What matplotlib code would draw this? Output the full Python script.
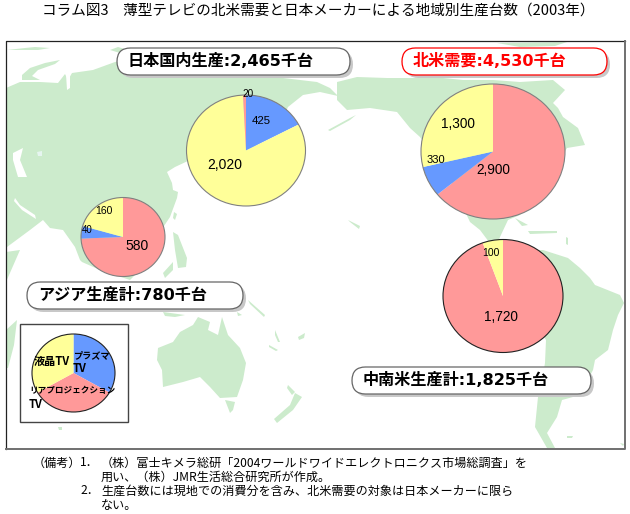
import matplotlib
matplotlib.use('Agg')
import matplotlib.pyplot as plt
from matplotlib.patches import Polygon, Rectangle, FancyBboxPatch, Circle

W, H = 630, 514
JP = ['Noto Sans CJK JP', 'DejaVu Sans']
LATIN_JP = ['DejaVu Sans', 'Noto Sans CJK JP']

PINK = '#FF9999'
BLUE = '#6699FF'
YELLOW = '#FFFF99'
LAND = '#CCEBCC'

# production by region, thousand units
japan_vals = [425, 2020, 20]
japan_cols = [BLUE, YELLOW, PINK]
namerica_vals = [2900, 330, 1300]
namerica_cols = [PINK, BLUE, YELLOW]
asia_vals = [580, 40, 160]
asia_cols = [PINK, BLUE, YELLOW]
latam_vals = [1720, 100]
latam_cols = [PINK, YELLOW]
key_vals = [1, 1, 1]
key_cols = [BLUE, PINK, YELLOW]

title = 'コラム図3\u3000薄型テレビの北米需要と日本メーカーによる地域別生産台数（2003年）'
notes = [
    (33, 463, '（備考）'),
    (80, 463, '1．'),
    (101, 463, '（株）富士キメラ総研「2004ワールドワイドエレクトロニクス市場総調査」を'),
    (101, 477, '用い、（株）JMR生活総合研究所が作成。'),
    (80, 491, '2．'),
    (101, 491, '生産台数には現地での消費分を含み、北米需要の対象は日本メーカーに限ら'),
    (101, 505, 'ない。'),
]

# map outlines, pixel positions
eurasia = [(6, 88), (20, 82), (40, 82), (58, 83), (65, 74), (68, 80), (72, 73), (93, 70), (115, 62),
           (130, 60), (200, 72), (260, 78), (283, 78), (317, 82), (330, 88), (338, 96), (320, 92),
           (303, 95), (288, 107), (280, 125), (240, 160), (190, 160), (175, 167), (167, 172),
           (172, 183), (173, 190), (178, 192), (177, 198), (170, 217), (160, 232), (140, 270),
           (130, 280), (100, 270), (82, 262), (80, 260), (75, 247), (63, 230), (50, 228), (43, 220),
           (30, 230), (7, 247), (6, 247)]
ob_gulf = [(66, 74), (70, 74), (70, 88), (67, 90)]
persian_gulf = [(15, 198), (20, 205), (35, 215), (36, 219), (22, 210), (14, 201)]
caspian = [(13, 153), (23, 148), (20, 160), (27, 177), (18, 177), (13, 160)]
aral = [(37, 152), (42, 151), (42, 156), (38, 156)]
namerica = [(337, 82), (357, 77), (387, 78), (443, 78), (463, 80), (493, 80), (520, 82), (553, 80),
            (565, 90), (553, 103), (558, 108), (563, 117), (578, 128), (585, 145), (567, 148),
            (560, 160), (540, 200), (520, 215), (508, 220), (500, 237), (495, 250), (480, 230),
            (470, 222), (450, 180), (420, 137), (410, 128), (397, 112), (370, 108), (347, 110),
            (337, 100)]
samerica = [(500, 250), (543, 250), (568, 258), (580, 268), (590, 278), (595, 285), (620, 295),
            (624, 303), (618, 315), (613, 330), (608, 350), (595, 360), (593, 370), (585, 385),
            (573, 397), (562, 400), (557, 417), (547, 433), (555, 448), (547, 448), (535, 427),
            (537, 407), (538, 397), (542, 380), (545, 363), (546, 340), (520, 300)]
australia = [(158, 348), (173, 342), (180, 332), (193, 325), (198, 317), (210, 322), (208, 330),
             (218, 335), (222, 317), (228, 335), (240, 348), (246, 363), (243, 380), (237, 397),
             (220, 398), (210, 387), (200, 377), (183, 382), (163, 387), (162, 370), (157, 360)]
islands = [
    [(22, 75), (30, 68), (45, 63), (60, 60), (55, 64), (38, 70), (32, 76), (40, 80), (22, 80)],
    [(7, 50), (25, 48), (35, 47), (50, 48), (38, 50), (20, 50)],
    [(110, 50), (118, 47), (128, 50), (120, 53)],
    [(497, 43), (567, 42), (555, 46), (520, 47)],
    [(6, 330), (17, 320), (14, 345), (8, 368), (6, 368)],
    [(6, 252), (20, 250), (6, 282)],
    [(225, 400), (235, 402), (233, 410), (230, 413)],
    [(274, 419), (290, 405), (295, 393), (302, 397), (293, 410), (277, 423)],
    [(288, 385), (295, 392), (292, 395), (287, 388)],
    [(237, 312), (242, 315), (238, 316)],
    [(163, 312), (185, 315), (175, 317), (165, 316)],
    [(248, 300), (265, 315), (264, 317), (250, 304)],
    [(275, 330), (280, 342), (278, 342), (275, 335)],
    [(269, 345), (278, 350), (276, 351), (269, 347)],
    [(298, 337), (305, 333), (304, 338), (299, 340)],
    [(348, 220), (360, 226), (359, 229), (350, 222)],
    [(173, 232), (178, 235), (187, 258), (186, 267), (178, 268), (175, 250)],
    [(163, 273), (173, 262), (173, 270), (165, 278)],
    [(174, 212), (177, 214), (175, 220), (173, 218)],
    [(515, 218), (528, 225), (522, 226)],
    [(528, 231), (557, 231), (557, 233), (530, 234)],
    [(566, 237), (568, 238), (568, 245), (566, 244)],
    [(567, 436), (573, 436), (572, 438), (567, 438)],
    [(620, 443), (624, 444), (623, 446)],
    [(328, 130), (350, 118), (356, 115), (350, 120), (330, 131)],
    [(58, 427), (62, 427), (62, 430), (59, 430)],
]

fig = plt.figure(figsize=(W / 100, H / 100), dpi=100)
ax = fig.add_axes([0, 0, 1, 1], zorder=0)
ax.set_xlim(0, W)
ax.set_ylim(H, 0)
ax.axis('off')

ax.add_patch(Rectangle((5.5, 41), 619.5, 408, fc='white', ec='none', zorder=0))
for shape in [eurasia, namerica, samerica, australia] + islands:
    ax.add_patch(Polygon(shape, fc=LAND, ec='none', zorder=1))
for hole in [ob_gulf, persian_gulf, caspian]:
    ax.add_patch(Polygon(hole, fc='white', ec='none', zorder=2))
ax.add_patch(Polygon(aral, fc='#E6F5F0', ec='none', zorder=2))

# frame: thin black on top/left, heavier grey on bottom/right
ax.plot([5.5, 5.5, 625], [449, 41, 41], color='#222222', lw=0.9, zorder=3)
ax.plot([5.5, 625, 625], [449, 449, 41], color='#707070', lw=1.4, zorder=3)


def rounded_label(x0, y0, x1, y1, txt, col='black', edge='#666666'):
    r = (y1 - y0) / 2
    ax.add_patch(FancyBboxPatch((x0 + r + 3, y0 + r + 3), x1 - x0 - 2 * r, 0,
                                boxstyle=f'round,pad={r},rounding_size={r}',
                                fc='#C8C8C8', ec='none', zorder=4))
    ax.add_patch(FancyBboxPatch((x0 + r, y0 + r), x1 - x0 - 2 * r, 0,
                                boxstyle=f'round,pad={r},rounding_size={r}',
                                fc='white', ec=edge, lw=0.9, zorder=5))
    over.text(x0 + 11, (y0 + y1) / 2 - 0.5, txt, family=LATIN_JP, fontsize=11.6, fontweight='bold',
              color=col, ha='left', va='center')


def draw_pie(cx, cy, rx, ry, vals, cols, edge='#808080'):
    pax = fig.add_axes([(cx - rx) / W, 1 - (cy + ry) / H, 2 * rx / W, 2 * ry / H], zorder=1)
    pax.pie(vals, colors=cols, startangle=90, counterclock=False, radius=1,
            wedgeprops=dict(linewidth=0))
    pax.set_aspect('auto')
    pax.set_xlim(-1, 1)
    pax.set_ylim(-1, 1)
    pax.add_patch(Circle((0, 0), 1, fc='none', ec=edge, lw=0.8, clip_on=False))
    return pax


# overlay for everything written on top of the pies
over = fig.add_axes([0, 0, 1, 1], zorder=2)
over.set_xlim(0, W)
over.set_ylim(H, 0)
over.axis('off')
over.patch.set_alpha(0)

draw_pie(246, 150.5, 59.5, 55.5, japan_vals, japan_cols)
draw_pie(493, 151.5, 72, 67.5, namerica_vals, namerica_cols)
draw_pie(123, 237, 42, 39.5, asia_vals, asia_cols)
draw_pie(503, 296, 60, 56.5, latam_vals, latam_cols, edge='#222222')

rounded_label(117, 48, 350, 75, '日本国内生産:2,465千台')
rounded_label(402, 48, 607, 75, '北米需要:4,530千台', col='#FF0000', edge='#FF0000')
rounded_label(27, 282, 243, 309, 'アジア生産計:780千台')
rounded_label(352, 367, 591, 394, '中南米生産計:1,825千台')


def value_label(x, y, v, size):
    over.text(x, y, f'{v:,}', family='Liberation Sans', fontsize=size, ha='center', va='center')


value_label(248.5, 94, japan_vals[2], 7.2)
value_label(261, 121, japan_vals[0], 8.2)
value_label(225, 165, japan_vals[1], 10)
value_label(104, 211, asia_vals[2], 7.5)
value_label(87, 230, asia_vals[1], 7)
value_label(137, 246, asia_vals[0], 10)
value_label(435.5, 160, namerica_vals[1], 8)
value_label(458, 124, namerica_vals[2], 9.8)
value_label(493, 170, namerica_vals[0], 9.8)
value_label(491, 253, latam_vals[1], 7.5)
value_label(501, 317, latam_vals[0], 9.8)

# legend box with its own small pie
ax.add_patch(Rectangle((20, 324), 107.5, 98, fc='white', ec='#444444', lw=1.0, zorder=6))
draw_pie(73.5, 373, 41.5, 39, key_vals, key_cols, edge='#222222')
over.text(34, 361, '液晶TV', family=JP, fontsize=8, fontweight='bold', ha='left', va='center')
over.text(73, 356, 'プラズマ', family=JP, fontsize=6.6, fontweight='bold', ha='left', va='center')
over.text(73, 368, 'TV', family=JP, fontsize=8, fontweight='bold', ha='left', va='center')
over.text(29, 391, 'リアプロジェクション', family=JP, fontsize=6.2, fontweight='bold', ha='left', va='center')
over.text(29, 404, 'TV', family=JP, fontsize=8, fontweight='bold', ha='left', va='center')

over.text(318.5, 11, title, family=JP, fontsize=10.5, ha='center', va='center')
for x, y, line in notes:
    over.text(x, y, line, family=JP, fontsize=8.7, ha='left', va='center')

fig.savefig('out.png', dpi=100, facecolor='white')
